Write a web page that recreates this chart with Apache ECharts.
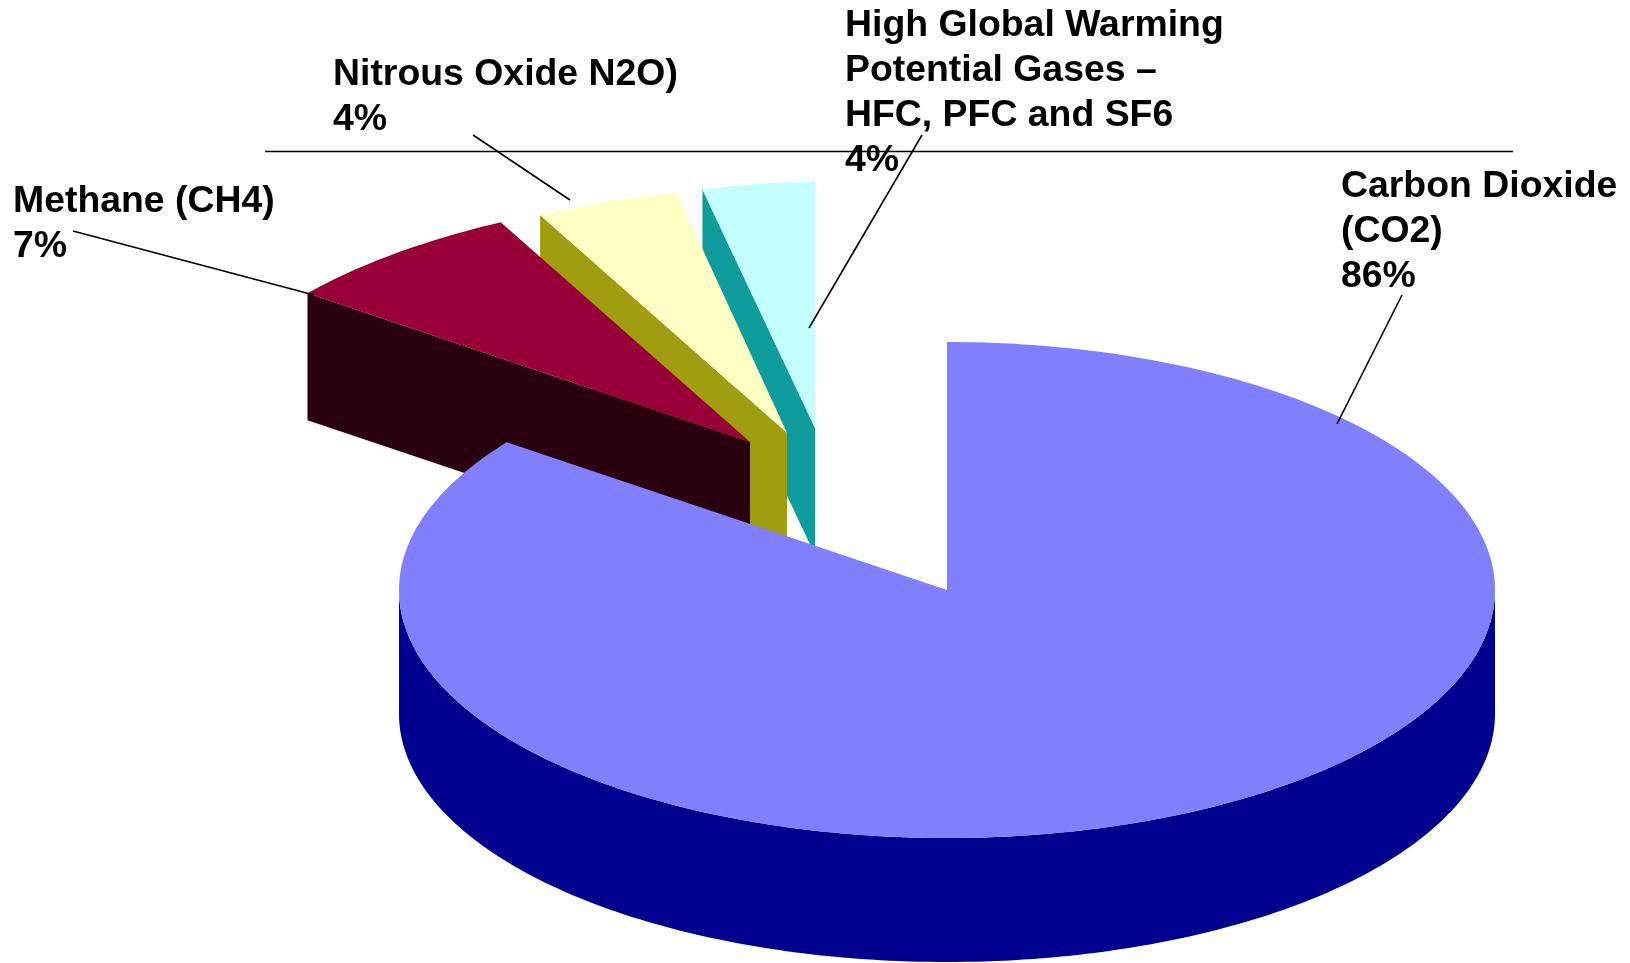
<!DOCTYPE html>
<html>
<head>
<meta charset="utf-8">
<title>Greenhouse gas emissions by gas</title>
<style>
  html, body { margin: 0; padding: 0; background: #fff; }
  #chart { width: 1630px; height: 963px; }
</style>
<script src="https://cdn.jsdelivr.net/npm/echarts@6/dist/echarts.min.js"></script>
</head>
<body>
<div id="chart"></div>
<script>
// Chart data
const gasNames = [
  'Carbon Dioxide\n(CO2)',
  'Methane (CH4)',
  'Nitrous Oxide N2O)',
  'High Global Warming\nPotential Gases \u2013\nHFC, PFC and SF6'
];
const gasShares = [86, 7, 4, 4];

// Slice appearance
const topColors = ['#8080ff', '#99003a', '#ffffc4', '#c4ffff'];
const wallColors = ['#00008e', '#2a0010', '#a09e10', '#0f9c9c'];

// Projected pie geometry: where each wedge's point sits and how wide its rim is drawn.
// Wedges pulled towards the back get a horizontal lean from the perspective.
const wedgePointX = [947, 750, 787, 815];
const wedgePointY = [590, 442, 433, 428];
const wedgeRadiusX = [548, 570, 578, 457];
const wedgeRadiusY = [248, 250, 248, 246];
const wedgeLean = [0, 26, 33, 0];
const wedgeDepth = [124, 127, 127, 127];

// Callout placement
const labelX = [1341, 13, 333, 845];
const labelY = [164, 179, 52, 3];
const leaderFrom = [[1402, 295], [73, 231], [473, 135], [922, 135]];
const leaderTo = [[1337, 424], [314, 295], [570, 200], [809, 328]];
const ruleSpan = [265, 1513, 151.5];

const total = gasShares.reduce((a, b) => a + b, 0);
const startShare = gasShares.map((_, i) =>
  gasShares.slice(0, i).reduce((a, b) => a + b, 0));

// Angles run clockwise from twelve o'clock, in degrees.
function rim(i, deg, drop) {
  const t = deg * Math.PI / 180;
  return [
    wedgePointX[i] + wedgeRadiusX[i] * Math.sin(t) + wedgeLean[i] * Math.cos(t),
    wedgePointY[i] - wedgeRadiusY[i] * Math.cos(t) + (drop || 0)
  ];
}

function arc(i, from, to, drop) {
  const n = Math.max(2, Math.ceil(Math.abs(to - from)));
  const pts = [];
  for (let k = 0; k <= n; k++) pts.push(rim(i, from + (to - from) * k / n, drop));
  return pts;
}

function renderWedge(params, api) {
  const i = api.value(0);
  const a0 = startShare[i] / total * 360;
  const a1 = (startShare[i] + gasShares[i]) / total * 360;
  const apex = [wedgePointX[i], wedgePointY[i]];
  const d = wedgeDepth[i];
  const order = gasShares.length - i;
  const children = [];
  const push = (points, fill) => children.push({
    type: 'polygon',
    z2: order,
    shape: { points },
    style: { fill }
  });

  // Cut face along the wedge's leading edge
  push([apex, rim(i, a0), rim(i, a0, d), [apex[0], apex[1] + d]], wallColors[i]);

  // Curved outer wall, only on the front half of the rim
  const w0 = Math.max(a0, 90), w1 = Math.min(a1, 270);
  if (w1 > w0) {
    push(arc(i, w0, w1).concat(arc(i, w1, w0, d)), wallColors[i]);
  }

  // Top face
  push([apex].concat(arc(i, a0, a1)), topColors[i]);

  return { type: 'group', children };
}

const labelElements = gasNames.map((name, i) => ({
  type: 'text',
  z: 20,
  x: labelX[i],
  y: labelY[i],
  style: {
    text: name + '\n' + gasShares[i] + '%',
    font: 'bold 37.4px "Liberation Sans", Arial, sans-serif',
    lineHeight: 45,
    fill: '#000',
    verticalAlign: 'top'
  }
}));

const leaderElements = gasNames.map((_, i) => ({
  type: 'line',
  z: 21,
  shape: {
    x1: leaderFrom[i][0], y1: leaderFrom[i][1],
    x2: leaderTo[i][0], y2: leaderTo[i][1]
  },
  style: { stroke: '#000', lineWidth: 1.6 }
}));

const ruleElement = {
  type: 'line',
  z: 21,
  shape: { x1: ruleSpan[0], y1: ruleSpan[2], x2: ruleSpan[1], y2: ruleSpan[2] },
  style: { stroke: '#000', lineWidth: 1.6 }
};

const chart = echarts.init(document.getElementById('chart'), null, { renderer: 'canvas' });
chart.setOption({
  animation: false,
  backgroundColor: '#fff',
  graphic: { elements: labelElements.concat(leaderElements, ruleElement) },
  series: [{
    type: 'custom',
    coordinateSystem: 'none',
    silent: true,
    encode: { value: 1 },
    data: gasShares.map((v, i) => [i, v]),
    renderItem: renderWedge
  }]
});
</script>
</body>
</html>
